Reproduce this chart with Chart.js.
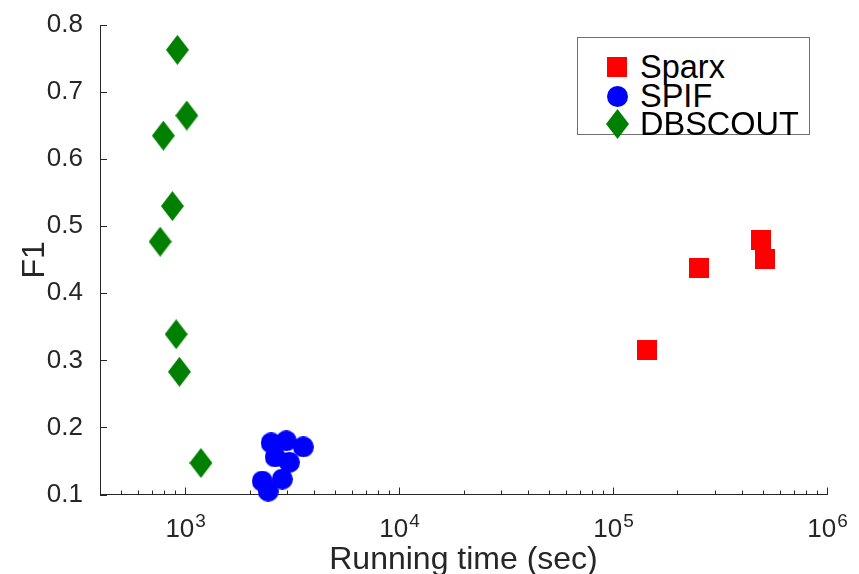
<!DOCTYPE html>
<html>
<head>
<meta charset="utf-8">
<title>F1 vs running time</title>
<style>
  html, body { margin: 0; padding: 0; background: #fff; }
  .wrap { position: relative; width: 859px; height: 574px; }
  #legend {
    position: absolute; left: 577px; top: 37px; width: 231px; height: 96px;
    border: 1px solid #707070; background: #fff;
    font-family: "Liberation Sans", Arial, Helvetica, sans-serif; font-size: 32.5px; color: #000;
  }
  #legend .row { position: absolute; left: 0; width: 100%; height: 29px; line-height: 29px; }
  #legend canvas { position: absolute; }
  #legend span { position: absolute; left: 62px; top: 0; white-space: nowrap; }
</style>
</head>
<body>
<div class="wrap">
  <canvas id="chart" width="859" height="574"></canvas>
  <div id="legend"></div>
</div>

<script src="https://cdn.jsdelivr.net/npm/chart.js@4.4.1/dist/chart.umd.min.js"></script>
<script>
// values
var seriesNames = ['Sparx', 'SPIF', 'DBSCOUT'];
var seriesColors = ['#ff0000', '#0000ff', '#008000'];

var sparxTime = [494000, 512000, 252000, 144500];
var sparxF1   = [0.479, 0.451, 0.437, 0.315];

var spifTime = [2523, 2970, 3566, 2637, 3070, 2844, 2293, 2445];
var spifF1   = [0.177, 0.180, 0.171, 0.156, 0.148, 0.123, 0.120, 0.105];

var dbscoutTime = [920, 1018, 791, 872, 764, 908, 940, 1185];
var dbscoutF1   = [0.763, 0.665, 0.635, 0.530, 0.477, 0.339, 0.283, 0.147];

var yTicks = [0.1, 0.2, 0.3, 0.4, 0.5, 0.6, 0.7, 0.8];
var xTickExps = [3, 4, 5, 6];
var xMin = 400, xMax = 1e6;

var axisColor = '#262626';
var fontFam = '"Liberation Sans", Arial, Helvetica, sans-serif';

// marker images (matlab style: square, circle, tall diamond)
function makeMarker(shape, color) {
  var c = document.createElement('canvas');
  var w = 20, h = 20;
  if (shape == 'circle') { w = 21; h = 21; }
  if (shape == 'diamond') { w = 23; h = 30; }
  c.width = w; c.height = h;
  var g = c.getContext('2d');
  g.fillStyle = color;
  g.beginPath();
  if (shape == 'square') {
    g.rect(0, 0, w, h);
  } else if (shape == 'circle') {
    g.arc(w / 2, h / 2, w / 2, 0, Math.PI * 2);
  } else {
    g.moveTo(w / 2, 0); g.lineTo(w, h / 2); g.lineTo(w / 2, h); g.lineTo(0, h / 2);
    g.closePath();
  }
  g.fill();
  return c;
}
var markers = [
  makeMarker('square', seriesColors[0]),
  makeMarker('circle', seriesColors[1]),
  makeMarker('diamond', seriesColors[2])
];

function toPoints(xs, ys) {
  var pts = [];
  for (var i = 0; i < xs.length; i++) pts.push({x: xs[i], y: ys[i]});
  return pts;
}

// inward tick marks + 10^n labels
var axisDecor = {
  id: 'axisDecor',
  beforeDatasetsDraw: function(chart) {
    var ctx = chart.ctx, a = chart.chartArea;
    var x = chart.scales.x, y = chart.scales.y;
    ctx.save();
    ctx.strokeStyle = axisColor;
    ctx.lineWidth = 1;
    ctx.beginPath();
    yTicks.forEach(function(v) {
      var py = Math.round(y.getPixelForValue(v)) + 0.5;
      ctx.moveTo(a.left, py); ctx.lineTo(a.left + 7, py);
    });
    for (var e = 2; e <= 6; e++) {
      for (var k = 1; k <= 9; k++) {
        var v = k * Math.pow(10, e);
        if (v < xMin || v > xMax) continue;
        var px = Math.round(x.getPixelForValue(v)) + 0.5;
        var len = (k == 1) ? 7 : 4;
        ctx.moveTo(px, a.bottom); ctx.lineTo(px, a.bottom - len);
      }
    }
    ctx.stroke();
    ctx.restore();
  },
  afterDraw: function(chart) {
    var ctx = chart.ctx, x = chart.scales.x;
    ctx.save();
    ctx.fillStyle = axisColor;
    ctx.textBaseline = 'alphabetic';
    xTickExps.forEach(function(e) {
      var px = x.getPixelForValue(Math.pow(10, e));
      ctx.font = '26px ' + fontFam;
      var wBase = ctx.measureText('10').width;
      ctx.font = '19px ' + fontFam;
      var wExp = ctx.measureText(String(e)).width;
      var x0 = px - (wBase + wExp) / 2;
      ctx.font = '26px ' + fontFam;
      ctx.textAlign = 'left';
      ctx.fillText('10', x0, 537);
      ctx.font = '19px ' + fontFam;
      ctx.fillText(String(e), x0 + wBase + 1, 527);
    });
    ctx.restore();
  }
};

var chart = new Chart('chart', {
  type: 'scatter',
  data: {
    datasets: [
      { label: seriesNames[0], data: toPoints(sparxTime, sparxF1), pointStyle: markers[0], backgroundColor: seriesColors[0], clip: false },
      { label: seriesNames[1], data: toPoints(spifTime, spifF1), pointStyle: markers[1], backgroundColor: seriesColors[1], clip: false },
      { label: seriesNames[2], data: toPoints(dbscoutTime, dbscoutF1), pointStyle: markers[2], backgroundColor: seriesColors[2], clip: false }
    ]
  },
  options: {
    responsive: false,
    animation: false,
    layout: { padding: { top: 25, right: 32, left: 0, bottom: 0 } },
    plugins: { legend: { display: false }, tooltip: { enabled: false } },
    scales: {
      x: {
        type: 'logarithmic',
        min: xMin, max: xMax,
        grid: { display: false, drawTicks: false },
        border: { display: true, color: axisColor, width: 1 },
        ticks: { display: false },
        title: {
          display: true, text: 'Running time (sec)', color: axisColor,
          font: { family: fontFam, size: 32, lineHeight: 1 },
          padding: { top: 0, bottom: -2 }
        },
        afterFit: function(s) { s.height = 79.5; }
      },
      y: {
        min: 0.1, max: 0.8,
        grid: { display: false, drawTicks: false },
        border: { display: true, color: axisColor, width: 1 },
        afterBuildTicks: function(s) { s.ticks = yTicks.map(function(v) { return {value: v}; }); },
        ticks: {
          padding: 17, color: axisColor,
          font: { family: fontFam, size: 26 },
          callback: function(v) { return Number(v).toFixed(1); }
        },
        title: {
          display: true, text: 'F1', color: axisColor,
          font: { family: fontFam, size: 32, lineHeight: 1 },
          padding: { top: 19, bottom: 0 }
        },
        afterFit: function(s) {
          s.width = 100;
          s.paddingTop = 0;
          s.paddingBottom = 0;
        }
      }
    }
  },
  plugins: [axisDecor]
});

// legend box, built from the same series arrays
var legend = document.getElementById('legend');
var rowCenters = [29, 58, 86];
for (var i = 0; i < seriesNames.length; i++) {
  var row = document.createElement('div');
  row.className = 'row';
  row.style.top = (rowCenters[i] - 14.5) + 'px';
  var m = makeMarker(['square', 'circle', 'diamond'][i], seriesColors[i]);
  m.style.left = (39 - m.width / 2) + 'px';
  m.style.top = (14.5 - m.height / 2) + 'px';
  row.appendChild(m);
  var t = document.createElement('span');
  t.textContent = seriesNames[i];
  row.appendChild(t);
  legend.appendChild(row);
}
</script>
</body>
</html>
